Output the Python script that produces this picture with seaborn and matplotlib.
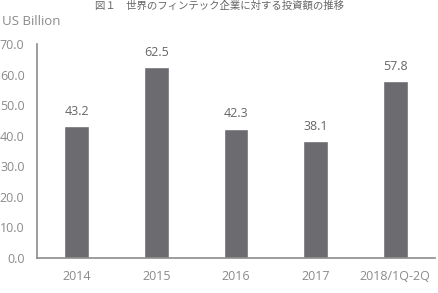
import matplotlib
matplotlib.use("Agg")
import matplotlib.pyplot as plt
import seaborn as sns
import pandas as pd

categories = ["2014", "2015", "2016", "2017", "2018/1Q-2Q"]
values = [43.2, 62.5, 42.3, 38.1, 57.8]
yticks = [0, 10, 20, 30, 40, 50, 60, 70]
title = "図１　世界のフィンテック企業に対する投資額の推移"
unit_label = "US Billion"

sns.set_theme(style="white")
plt.rcParams['font.family'] = ['Open Sans', 'Noto Sans CJK JP', 'DejaVu Sans']

df = pd.DataFrame({"cat": categories, "val": values})

fig = plt.figure(figsize=(4.39, 2.93), dpi=100)
ax = fig.add_axes([0.0843, 0.1195, 0.9067, 0.7305])
sns.barplot(data=df, x="cat", y="val", color="#6b6b70", saturation=1, width=0.31, ax=ax)

ax.set_xlim(-0.5, 4.5)
ax.set_ylim(0, 70)
ax.set_yticks(yticks)
ax.set_yticklabels([f"{v:.1f}" for v in yticks])
ax.set_xlabel("")
ax.set_ylabel("")
ax.tick_params(axis='both', length=0, labelsize=9, colors="#8a8a8a")
ax.tick_params(axis='x', pad=9)
ax.tick_params(axis='y', pad=9)
for s in ["top", "right"]:
    ax.spines[s].set_visible(False)
for s in ["left", "bottom"]:
    ax.spines[s].set_color("#8c8c8c")
    ax.spines[s].set_linewidth(1.2)

for c in ax.containers:
    ax.bar_label(c, labels=[f"{v:.1f}" for v in values], padding=6, fontsize=9, color="#666666")

fig.text(0.005, 0.925, unit_label, fontsize=9.5, color="#8a8a8a", va="center", ha="left")
fig.text(0.5, 0.997, title, fontsize=7.5, color="#666666", va="top", ha="center",
         family=['Noto Sans CJK JP', 'DejaVu Sans'])

fig.savefig("out.png", dpi=100)
